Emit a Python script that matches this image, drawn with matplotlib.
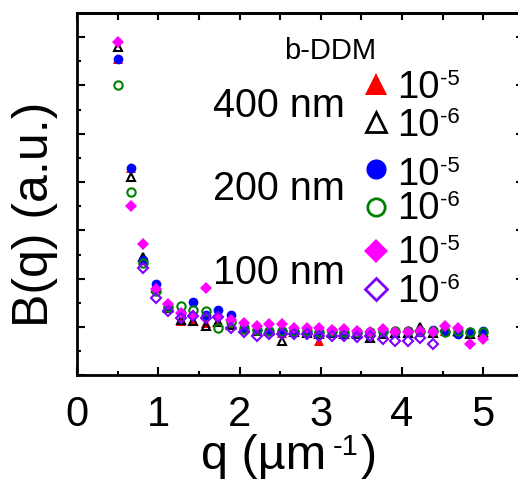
import matplotlib
matplotlib.use("Agg")
import matplotlib.pyplot as plt
from matplotlib.ticker import MultipleLocator

plt.rcParams["font.family"] = ["Liberation Sans", "DejaVu Sans"]

# q grid (um^-1)
q = [0.50, 0.66, 0.81, 0.97, 1.12, 1.28, 1.43, 1.59, 1.74, 1.90,
     2.05, 2.21, 2.36, 2.52, 2.67, 2.83, 2.98, 3.14, 3.29, 3.45,
     3.60, 3.76, 3.91, 4.07, 4.22, 4.38, 4.53, 4.69, 4.84, 5.00]

# B(q), arbitrary units
b400_1e5 = [6.55, 4.29, 2.38, 1.80, 1.40, 1.13, 1.13, 1.08, 1.11, 1.05,
            0.98, 0.95, 0.93, 0.88, 0.90, 0.90, 0.72, 0.88, 0.88, 0.86,
            0.88, 0.85, 0.87, 0.88, 0.90, 0.88, 0.92, 0.90, 0.85, 0.88]
b400_1e6 = [6.80, 4.10, 2.45, 1.82, 1.40, 1.15, 1.13, 1.03, 1.11, 1.05,
            0.98, 0.93, 0.92, 0.72, 0.90, 0.88, 0.85, 0.88, 0.86, 0.85,
            0.78, 0.85, 0.88, 0.88, 1.00, 0.88, 1.00, 0.92, 0.86, 0.90]
b200_1e5 = [6.54, 4.29, 2.38, 1.90, 1.42, 1.30, 1.53, 1.25, 1.36, 1.26,
            1.00, 0.95, 0.93, 0.92, 0.90, 0.90, 0.88, 0.90, 0.88, 0.88,
            0.88, 0.90, 0.90, 0.92, 0.90, 0.95, 0.92, 0.86, 0.90, 0.92]
b200_1e6 = [6.00, 3.79, 2.33, 1.75, 1.42, 1.44, 1.36, 1.34, 0.99, 1.10,
            0.97, 0.95, 0.93, 0.92, 0.92, 0.92, 0.90, 0.92, 0.90, 0.90,
            0.90, 0.93, 0.93, 0.92, 0.92, 0.92, 0.89, 0.92, 0.89, 0.89]
b100_1e5 = [6.91, 3.51, 2.72, 1.79, 1.48, 1.30, 1.24, 1.81, 1.20, 1.15,
            1.09, 1.03, 1.07, 1.07, 0.99, 0.98, 0.99, 0.95, 0.96, 0.93,
            0.91, 0.96, 0.89, 0.89, 0.93, 0.89, 1.03, 0.99, 0.65, 0.76]
# 100 nm, 1e-6 only measured from q[2] to q[25]
q100_1e6 = q[2:26]
b100_1e6 = [2.23, 1.61, 1.34, 1.19, 1.24, 1.19, 1.22, 0.99, 0.89, 0.82,
            0.86, 0.85, 0.85, 0.85, 0.82, 0.82, 0.81, 0.79, 0.82, 0.76,
            0.72, 0.71, 0.78, 0.65]

W, H = 518, 486


def fp(x, y):
    """pixel position -> figure fraction"""
    return x / W, 1 - y / H


fig = plt.figure(figsize=(W / 100, H / 100), dpi=100)
ax = fig.add_axes([77 / W, 1 - 375.5 / H, 447 / W, 362.5 / H])

series = [
    (q, b400_1e5, dict(marker="^", color="#ff0000", ms=6.5, mfc="#ff0000", mew=0)),
    (q, b400_1e6, dict(marker="^", color="black", ms=6, mfc="none", mew=1.5)),
    (q, b200_1e5, dict(marker="o", color="#0000ff", ms=7, mfc="#0000ff", mew=0)),
    (q, b200_1e6, dict(marker="o", color="#008000", ms=6, mfc="none", mew=1.5)),
    (q, b100_1e5, dict(marker="D", color="#ff00ff", ms=6.2, mfc="#ff00ff", mew=0)),
    (q100_1e6, b100_1e6, dict(marker="D", color="#8000ff", ms=5.3, mfc="none", mew=1.5)),
]
for xs, ys, st in series:
    ax.plot(xs, ys, linestyle="none", **st)

ax.set_xlim(0, 5.5)
ax.set_ylim(0, 7.5)
ax.xaxis.set_major_locator(MultipleLocator(1))
ax.xaxis.set_minor_locator(MultipleLocator(0.5))
ax.yaxis.set_major_locator(MultipleLocator(1))
ax.yaxis.set_minor_locator(MultipleLocator(0.5))
ax.tick_params(which="both", direction="in", width=1.5, top=False, right=True,
               labelleft=False, labelsize=30, pad=14)
ax.tick_params(which="major", length=5.5)
ax.tick_params(which="minor", length=2.7)
for sp in ax.spines.values():
    sp.set_linewidth(2)

sec = ax.secondary_xaxis("top")
sec.xaxis.set_major_locator(MultipleLocator(0.5))
sec.tick_params(direction="in", length=5, width=1.5, labeltop=False)
sec.spines["top"].set_linewidth(2)

# axis labels
fig.text(*fp(35, 214), "B(q) (a.u.)", rotation=90, ha="center", va="center", fontsize=36)
fig.text(*fp(201, 469), "q (\u00b5m", ha="left", va="baseline", fontsize=35)
fig.text(*fp(333, 455), "-1", ha="left", va="baseline", fontsize=21)
fig.text(*fp(361, 469), ")", ha="left", va="baseline", fontsize=35)

# legend drawn by hand
fig.text(*fp(284, 59), "b-DDM", ha="left", va="baseline", fontsize=21)
groups = [("400 nm", 117), ("200 nm", 200), ("100 nm", 284)]
for label, base in groups:
    fig.text(*fp(213, base), label, ha="left", va="baseline", fontsize=28.5)

legend_rows = [
    (84, 98, "-5", dict(marker="^", color="#ff0000", ms=16, mfc="#ff0000", mew=0)),
    (122, 136, "-6", dict(marker="^", color="black", ms=14.5, mfc="none", mew=2)),
    (169, 185, "-5", dict(marker="o", color="#0000ff", ms=14.5, mfc="#0000ff", mew=0)),
    (207, 219, "-6", dict(marker="o", color="#008000", ms=12.5, mfc="none", mew=2)),
    (251, 263, "-5", dict(marker="D", color="#ff00ff", ms=12.2, mfc="#ff00ff", mew=0)),
    (289, 302, "-6", dict(marker="D", color="#8000ff", ms=11, mfc="none", mew=2)),
]
for my, base, expo, st in legend_rows:
    mx, myf = fp(376, my)
    ax.plot([mx], [myf], transform=fig.transFigure, clip_on=False, linestyle="none", **st)
    fig.text(*fp(397, base), "10", ha="left", va="baseline", fontsize=27.5)
    fig.text(*fp(440, base - 13), expo, ha="left", va="baseline", fontsize=16)

fig.savefig("out.png", dpi=100)
